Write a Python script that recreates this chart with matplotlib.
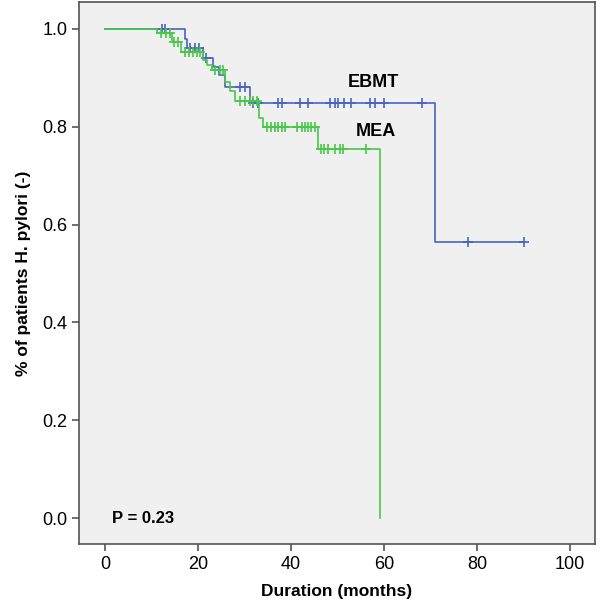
"""
plot.py - Kaplan-Meier style curves for H. pylori, EBMT vs MEA.
"""

import numpy as np
import matplotlib
matplotlib.use("Agg")
import matplotlib.pyplot as plt

plt.rcParams["font.family"] = ["Liberation Sans", "DejaVu Sans"]

# ---------------------------------------------------------------------------
# Data
# ---------------------------------------------------------------------------
# step times (months) and survival level after each step
ebmt_times = [0, 17.1, 17.7, 21.1, 23.3, 24.5, 25.8, 31.1, 71.0, 90.2]
ebmt_surv  = [1.0, 0.980, 0.960, 0.940, 0.923, 0.906, 0.882, 0.848, 0.565, 0.565]
ebmt_censor = [12.2, 13.0, 18.3, 19.4, 20.3, 21.8, 29.0, 30.1, 31.9, 33.0,
               37.3, 38.0, 41.9, 43.7, 48.4, 49.5, 50.2, 51.3, 53.0, 57.0,
               58.0, 60.0, 68.1, 78.1, 90.2]

mea_times = [0, 11.1, 14.3, 16.3, 21.0, 22.0, 23.0, 25.8, 26.9, 27.9,
             33.2, 34.0, 45.9, 59.1]
mea_surv  = [1.0, 0.991, 0.973, 0.952, 0.937, 0.926, 0.916, 0.892, 0.874, 0.852,
             0.817, 0.800, 0.755, 0.0]
mea_censor = [12.0, 13.1, 13.9, 14.8, 15.6, 17.2, 18.1, 19.0, 19.7, 20.4,
              23.7, 24.7, 25.4, 29.0, 30.1, 31.2, 31.9, 32.6, 34.8, 35.8,
              36.6, 37.3, 38.0, 38.7, 41.2, 42.3, 43.0, 43.7, 44.4, 45.1,
              46.5, 47.2, 47.9, 49.4, 50.5, 51.2, 56.2]

x_ticks = [0, 20, 40, 60, 80, 100]
y_ticks = [0.0, 0.2, 0.4, 0.6, 0.8, 1.0]

BLUE = "#4a63c0"
GREEN = "#48c848"
FRAME = "#555555"


def level_at(times, surv, t):
    """Survival level of a step curve at time t."""
    idx = np.searchsorted(times, t, side="right") - 1
    return np.asarray(surv)[idx]


def draw_curve(ax, times, surv, censor, color):
    ax.step(times, surv, where="post", color=color, lw=1.2)
    cy = level_at(np.asarray(times), surv, np.asarray(censor))
    ax.plot(censor, cy, ls="none", marker="+", ms=7, mew=1.2, color=color)


def main():
    fig = plt.figure(figsize=(6.0, 6.12), dpi=100)
    ax = fig.add_axes([0.1317, 0.1111, 0.86, 0.8856])
    ax.set_facecolor("#f0f0f0")

    draw_curve(ax, ebmt_times, ebmt_surv, ebmt_censor, BLUE)
    draw_curve(ax, mea_times, mea_surv, mea_censor, GREEN)

    ax.text(57.7, 0.891, "EBMT", fontsize=13, fontweight="bold",
            ha="center", va="center")
    ax.text(58.2, 0.791, "MEA", fontsize=13, fontweight="bold",
            ha="center", va="center")
    ax.text(1.6, 0.0, "P = 0.23", fontsize=12, fontweight="bold",
            ha="left", va="center")

    ax.set_xlim(-5.6, 105.4)
    ax.set_ylim(-0.053, 1.055)
    ax.set_xticks(x_ticks)
    ax.set_yticks(y_ticks)
    ax.set_xticklabels([str(v) for v in x_ticks])
    ax.set_yticklabels([f"{v:.1f}" for v in y_ticks])
    ax.tick_params(labelsize=13, length=5, width=1.2, color=FRAME,
                   direction="out")
    for sp in ax.spines.values():
        sp.set_color(FRAME)
        sp.set_linewidth(1.2)

    ax.set_xlabel("Duration (months)", fontsize=12.5, fontweight="bold",
                  labelpad=8)
    ax.set_ylabel("% of patients H. pylori (-)", fontsize=12.5,
                  fontweight="bold", labelpad=8)

    fig.savefig("out.png", dpi=100, facecolor="white")
    plt.close(fig)


if __name__ == "__main__":
    main()
